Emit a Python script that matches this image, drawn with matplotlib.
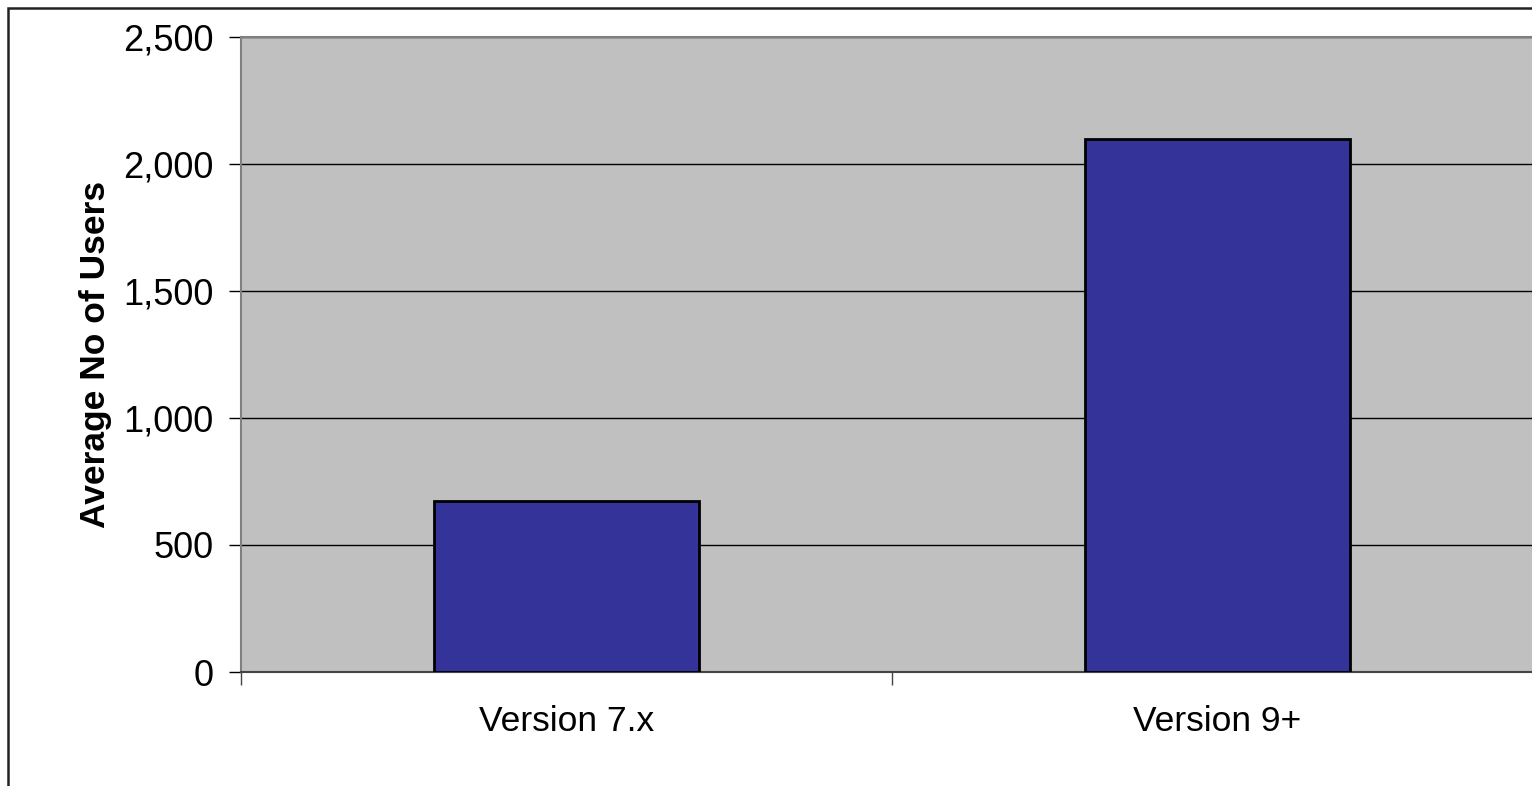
import matplotlib
matplotlib.use("Agg")
import matplotlib.pyplot as plt
from matplotlib.patches import Rectangle
from matplotlib.ticker import FuncFormatter

categories = ["Version 7.x", "Version 9+"]
values = [673, 2100]
yticks = [0, 500, 1000, 1500, 2000, 2500]

plt.rcParams['font.family'] = ['Liberation Sans', 'DejaVu Sans']

W, H = 1532, 786
fig = plt.figure(figsize=(W / 100, H / 100), dpi=100)

# outer chart border (left and top visible)
fig.patches.append(Rectangle((8 / W, -0.1), 1.2, 1 - 8 / H + 0.1, transform=fig.transFigure,
                             fill=False, edgecolor='#222222', linewidth=1.8, zorder=0))

left, right, top, bottom = 241, 1543, 37, 672
ax = fig.add_axes([left / W, 1 - bottom / H, (right - left) / W, (bottom - top) / H])
ax.set_facecolor('#C0C0C0')

x = list(range(len(categories)))
ax.bar(x, values, width=0.407, color='#333399', edgecolor='black', linewidth=2, zorder=3)

ax.set_xlim(-0.5, len(categories) - 0.5)
ax.set_ylim(0, 2500)
ax.set_yticks(yticks)
ax.yaxis.set_major_formatter(FuncFormatter(lambda v, p: f"{int(v):,}"))
ax.yaxis.grid(True, color='black', linewidth=1.0, zorder=1)
ax.set_axisbelow(True)

ax.set_xticks([i - 0.5 for i in range(len(categories) + 1)])
ax.set_xticklabels([])
ax.set_xticks(x, minor=True)
ax.set_xticklabels(categories, minor=True, fontsize=25.5)
ax.tick_params(axis='x', which='minor', length=0, pad=24)
ax.tick_params(axis='x', which='major', length=9, width=1, color='#444444', direction='out')
ax.tick_params(axis='y', length=9, width=1, color='black', labelsize=26, pad=11)

for s in ['left', 'top']:
    ax.spines[s].set_color('#808080')
    ax.spines[s].set_linewidth(1.5)
ax.spines['bottom'].set_color('#444444')
ax.spines['bottom'].set_linewidth(1.5)
ax.spines['right'].set_visible(False)

ax.set_ylabel("Average No of Users", fontsize=25.5, fontweight='bold', labelpad=8)

fig.savefig("out.png", dpi=100)
